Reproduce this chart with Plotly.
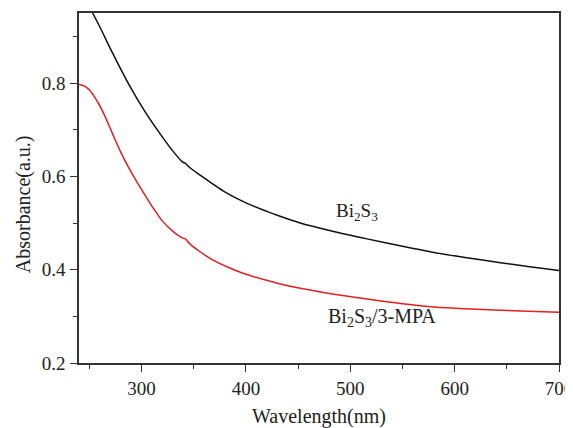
import plotly.graph_objects as go

# Bi2S3 (black)
wl_bi2s3 = [250, 253, 260, 272, 288, 304, 320, 330, 339, 342, 345, 355, 368, 380, 400,
            420, 432, 452, 480, 516, 550, 580, 610, 644, 670, 700]
abs_bi2s3 = [0.962, 0.950, 0.920, 0.865, 0.796, 0.736, 0.684, 0.654, 0.631, 0.628, 0.621,
             0.604, 0.584, 0.566, 0.543, 0.525, 0.515, 0.500, 0.484, 0.466, 0.450, 0.437,
             0.426, 0.415, 0.407, 0.398]

# Bi2S3/3-MPA (red)
wl_mpa = [240, 245, 250, 259, 265, 272, 280, 288, 296, 304, 312, 320, 330, 339, 342, 345,
          355, 368, 385, 400, 432, 452, 480, 516, 550, 580, 610, 644, 670, 700]
abs_mpa = [0.797, 0.794, 0.785, 0.755, 0.728, 0.692, 0.652, 0.617, 0.586, 0.557, 0.529,
           0.504, 0.482, 0.468, 0.466, 0.458, 0.440, 0.421, 0.403, 0.390, 0.370, 0.360,
           0.349, 0.337, 0.327, 0.320, 0.316, 0.313, 0.311, 0.309]

x_ticks = [300, 400, 500, 600, 700]
y_ticks = [0.2, 0.4, 0.6, 0.8]

FONT = "Liberation Serif"
AX = "#333333"

fig = go.Figure()
fig.add_trace(go.Scatter(x=wl_bi2s3, y=abs_bi2s3, mode="lines",
                         line=dict(color="#111111", width=1.5, shape="spline", smoothing=0.8), showlegend=False))
fig.add_trace(go.Scatter(x=wl_mpa, y=abs_mpa, mode="lines",
                         line=dict(color="#e02020", width=1.5, shape="spline", smoothing=0.8), showlegend=False))

fig.add_annotation(x=506, y=0.524, text="Bi<sub>2</sub>S<sub>3</sub>", showarrow=False,
                   font=dict(family=FONT, size=19, color="#222"))
fig.add_annotation(x=530, y=0.297, text="Bi<sub>2</sub>S<sub>3</sub>/3-MPA", showarrow=False,
                   font=dict(family=FONT, size=20, color="#222"))
# y-axis title (sits slightly below the plot centre in the reference)
fig.add_annotation(xref="paper", yref="paper", x=-0.115, y=0.453, text="Absorbance(a.u.)",
                   xanchor="center", yanchor="middle",
                   textangle=-90, showarrow=False, font=dict(family=FONT, size=20, color="#222"))

fig.update_layout(
    width=565, height=420,
    margin=dict(l=71, r=14, t=5, b=65, autoexpand=False),
    plot_bgcolor="white", paper_bgcolor="white",
    font=dict(family=FONT, size=19, color="#222"),
)
fig.update_xaxes(
    range=[240, 700], tickvals=x_ticks, ticks="outside", ticklen=7, tickwidth=1.3, tickcolor=AX,
    minor=dict(tickvals=[250, 350, 450, 550, 650], ticks="outside", ticklen=4, tickwidth=1.3, tickcolor=AX),
    showline=True, linecolor=AX, linewidth=1.5, mirror=True, showgrid=False, zeroline=False,
    title=dict(text="Wavelength(nm)", font=dict(family=FONT, size=20), standoff=12),
    tickfont=dict(family=FONT, size=19), automargin=False, ticklabeloverflow="allow",
)
fig.update_yaxes(
    range=[0.2, 0.95], tickvals=y_ticks, tickformat=".1f", ticks="outside", ticklen=7, tickwidth=1.3, tickcolor=AX,
    minor=dict(tickvals=[0.3, 0.5, 0.7, 0.9], ticks="outside", ticklen=4, tickwidth=1.3, tickcolor=AX),
    showline=True, linecolor=AX, linewidth=1.5, mirror=True, showgrid=False, zeroline=False,
    tickfont=dict(family=FONT, size=19), automargin=False, ticklabelstandoff=1,
)

fig.write_html("out.html")
